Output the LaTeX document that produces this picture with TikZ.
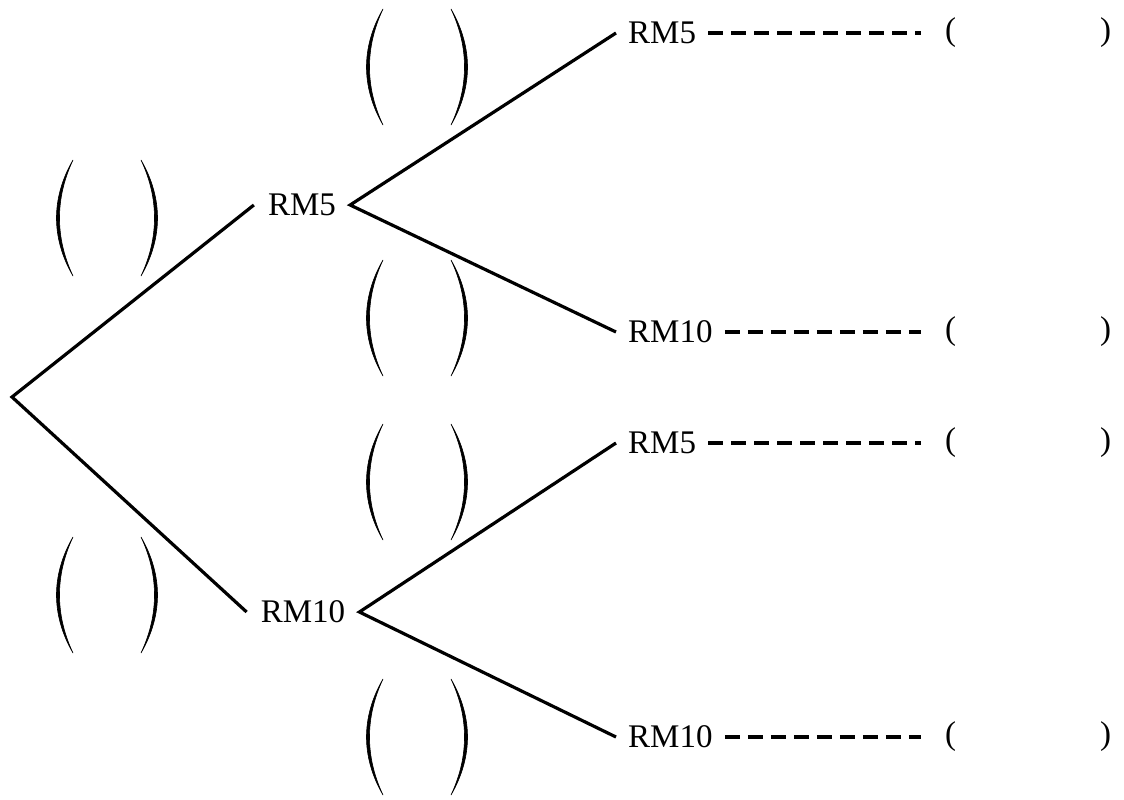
\documentclass[tikz,border=0pt]{standalone}
\usepackage{fontspec}
\setmainfont{Liberation Serif}
\usepackage{tikz}
\usetikzlibrary{calc}

\begin{document}
\begin{tikzpicture}[x=1pt,y=-1pt,
  branch/.style={line width=3.2pt},
  guide/.style={line width=3.6pt,dash pattern=on 15pt off 8pt},
  lbl/.style={font=\fontsize{33}{40}\selectfont,inner xsep=14pt,inner ysep=2pt},
  leaf/.style={lbl,anchor=west,inner xsep=12pt},
  ans/.style={font=\fontsize{33}{40}\selectfont,anchor=west,inner xsep=24pt,inner ysep=2pt},
  blank/.pic={
    \filldraw[line width=0.6pt] (-34,-58) .. controls (-56,-20) and (-56,20) .. (-34,58)
      .. controls (-52,20) and (-52,-20) .. (-34,-58) -- cycle;
    \filldraw[line width=0.6pt] (34,-58) .. controls (56,-20) and (56,20) .. (34,58)
      .. controls (52,20) and (52,-20) .. (34,-58) -- cycle;
  }]
\useasboundingbox (0,0) rectangle (1124,800);
\coordinate (root) at (12,397);
\node[lbl] (m5) at (302,205) {RM5};
\node[lbl] (m10) at (303,612) {RM10};
\node[leaf] (l1) at (616,33) {RM5};
\node[leaf] (l2) at (616,332) {RM10};
\node[leaf] (l3) at (616,443) {RM5};
\node[leaf] (l4) at (616,737) {RM10};
\foreach \i/\y in {1/33,2/332,3/443,4/737}{
  \node[ans] (a\i) at (921,\y) {(\hspace{144pt})};
  \draw[guide] (l\i.east) -- (a\i.west);
}
\draw[branch] (m5.west) -- (root) -- (m10.west);
\draw[branch] (l1.west) -- (m5.east) -- (l2.west);
\draw[branch] (l3.west) -- (m10.east) -- (l4.west);
\pic at (107,218) {blank};
\pic at (107,595) {blank};
\pic at (417,67) {blank};
\pic at (417,318) {blank};
\pic at (417,482) {blank};
\pic at (417,737) {blank};
\end{tikzpicture}
\end{document}
